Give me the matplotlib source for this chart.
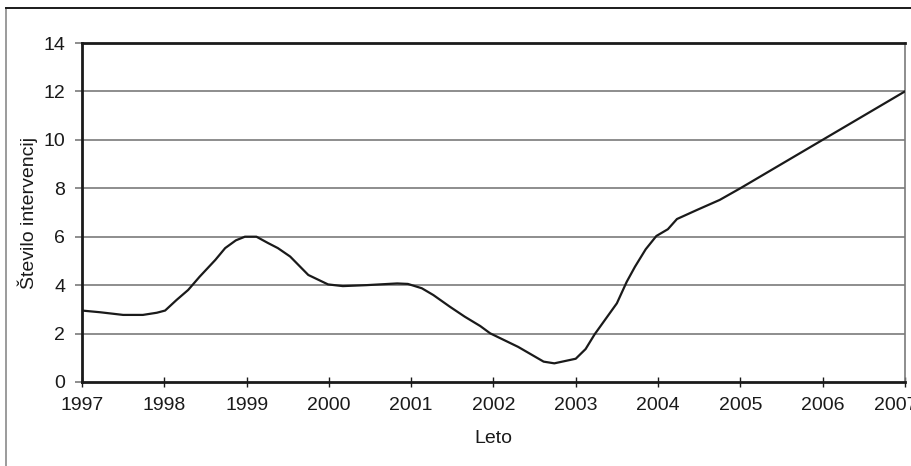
import matplotlib.pyplot as plt
from matplotlib import font_manager
from matplotlib.lines import Line2D
from matplotlib.transforms import ScaledTranslation

# Values (year, number of interventions)
years = [1997.0, 1997.22, 1997.5, 1997.74, 1997.91, 1998.01, 1998.15, 1998.29,
         1998.43, 1998.62, 1998.74, 1998.87, 1998.98, 1999.12, 1999.26, 1999.38,
         1999.53, 1999.75, 1999.99, 2000.17, 2000.46, 2000.83, 2000.96, 2001.13,
         2001.27, 2001.47, 2001.65, 2001.84, 2001.96, 2002.3, 2002.61, 2002.74,
         2003.0, 2003.12, 2003.23, 2003.5, 2003.62, 2003.72, 2003.85, 2003.98,
         2004.12, 2004.23, 2004.47, 2004.75, 2005.0, 2006.0, 2007.0]
interventions = [2.95, 2.88, 2.77, 2.77, 2.86, 2.95, 3.39, 3.8,
                 4.35, 5.04, 5.53, 5.85, 6.0, 6.0, 5.74, 5.53,
                 5.18, 4.42, 4.03, 3.96, 4.0, 4.07, 4.05, 3.87,
                 3.59, 3.11, 2.7, 2.31, 2.01, 1.45, 0.84, 0.77,
                 0.96, 1.36, 1.97, 3.25, 4.14, 4.76, 5.48, 6.03,
                 6.31, 6.73, 7.1, 7.52, 8.0, 10.0, 12.0]
x_ticks = list(range(1997, 2008))
y_ticks = [0, 2, 4, 6, 8, 10, 12, 14]

# condensed face if it is there, otherwise plain Liberation Sans
names = {f.name for f in font_manager.fontManager.ttflist}
if "Liberation Sans Narrow" in names:
    plt.rcParams["font.family"] = ["Liberation Sans Narrow", "DejaVu Sans"]
    fs = 15.5
else:
    plt.rcParams["font.family"] = ["Liberation Sans", "DejaVu Sans"]
    fs = 14

fig = plt.figure(figsize=(9.12, 4.66), dpi=100)
ax = fig.add_axes([0.0899, 0.1803, 0.9023, 0.7274])

# grid lines
for v in y_ticks[1:-1]:
    ax.axhline(v, color="#7a7a7a", linewidth=1.2, zorder=1)

ax.plot(years, interventions, color="#1a1a1a", linewidth=1.6, zorder=3)

ax.set_xlim(1997, 2007)
ax.set_ylim(0, 14)
ax.set_xticks(x_ticks)
ax.set_yticks(y_ticks)
ax.tick_params(axis="x", direction="inout", length=7, width=1, color="#1a1a1a",
               labelsize=fs, pad=7, labelcolor="#1a1a1a")
ax.tick_params(axis="y", direction="out", length=5, width=1.2, color="#7a7a7a",
               labelsize=fs, pad=7, labelcolor="#1a1a1a")

# last year label is nudged left so it mostly fits, as in the original
last = ax.xaxis.get_major_ticks()[-1].label1
last.set_transform(last.get_transform() + ScaledTranslation(-0.09, 0, fig.dpi_scale_trans))

for side in ["left", "bottom", "top"]:
    ax.spines[side].set_linewidth(2)
    ax.spines[side].set_color("#1a1a1a")
ax.spines["right"].set_linewidth(1.2)
ax.spines["right"].set_color("#7a7a7a")

ax.set_ylabel("Število intervencij", fontsize=fs, labelpad=4, color="#1a1a1a")
ax.set_xlabel("Leto", fontsize=fs, labelpad=12, color="#1a1a1a")

# outer frame (left and top edge only)
fig.add_artist(Line2D([6 / 912, 6 / 912], [0, 1 - 8 / 466],
                      transform=fig.transFigure, color="#8a8a8a", linewidth=1.2))
fig.add_artist(Line2D([6 / 912, 1], [1 - 8 / 466, 1 - 8 / 466],
                      transform=fig.transFigure, color="#1a1a1a", linewidth=1.4))

plt.savefig("out.png", dpi=100)
